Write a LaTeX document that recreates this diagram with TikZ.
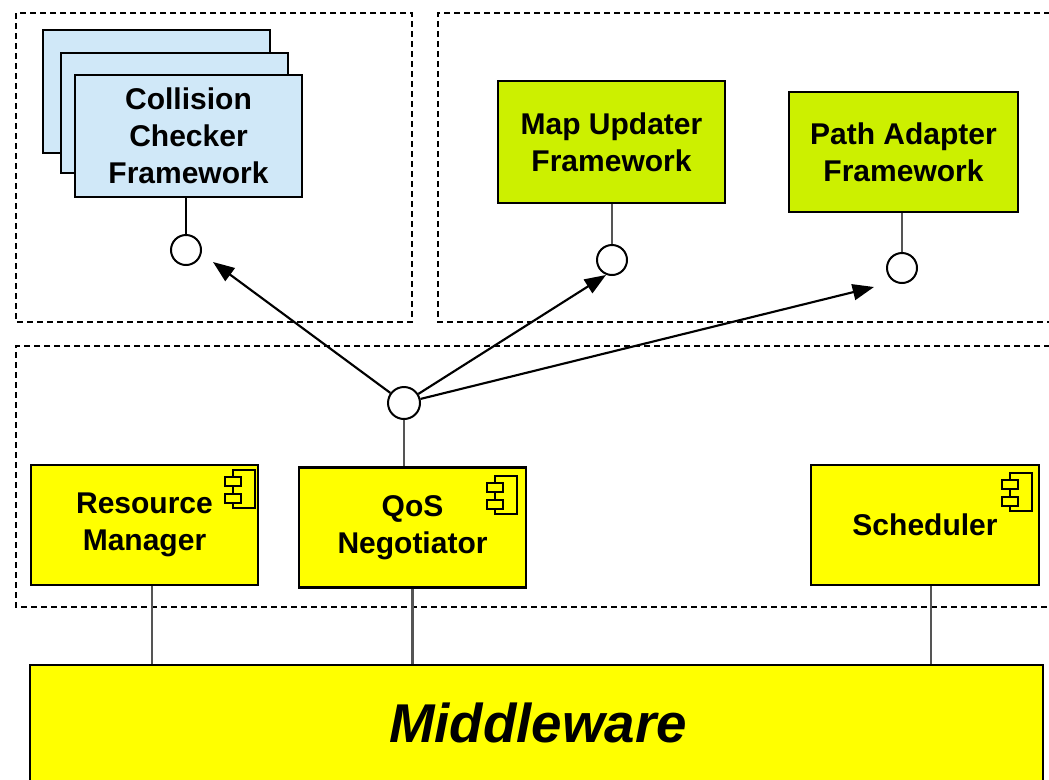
\documentclass[tikz,border=0pt]{standalone}
\usepackage{fontspec}
\setmainfont{Liberation Sans}
\usetikzlibrary{arrows.meta}
\definecolor{lblue}{HTML}{D0E8F8}
\definecolor{limeg}{HTML}{CCF000}
\definecolor{yel}{HTML}{FFFF00}
\definecolor{conn}{HTML}{555555}
\tikzset{
  compicon/.pic={
    \draw[line width=1.6pt, fill=yel] (-22,0) rectangle (0,38);
    \draw[line width=1.6pt, fill=yel] (-30,7) rectangle (-14,16);
    \draw[line width=1.6pt, fill=yel] (-30,24) rectangle (-14,33);
  }
}
\begin{document}
\begin{tikzpicture}[x=0.75pt,y=-0.75pt,
  box/.style={draw=black, line width=2.1pt, inner sep=0pt, align=center,
    font=\fontsize{22.5}{27.75}\selectfont\bfseries},
  fwbox/.style={box, fill=lblue, minimum width=170.25pt, minimum height=91.5pt},
  shadowbox/.style={draw=black, line width=2.1pt, fill=lblue, inner sep=0pt},
  greenbox/.style={box, fill=limeg, minimum width=170.25pt, minimum height=91.5pt},
  compbox/.style={box, fill=yel, minimum width=170.25pt, minimum height=90pt},
  iface/.style={circle, draw=black, line width=1.5pt, fill=white, minimum size=22.5pt, inner sep=0pt},
  group/.style={draw=black, line width=1.3pt, dash pattern=on 4.5pt off 3pt},
  link/.style={draw=conn, line width=1.9pt},
  stem/.style={draw=black, line width=1.8pt},
  use/.style={draw=black, line width=1.6pt, -{Triangle[length=16pt, width=12pt]}},
  mwbox/.style={draw=black, line width=2.2pt, fill=yel, inner sep=0pt,
    minimum width=759.75pt, minimum height=88.5pt},
  mwtext/.style={font=\fontsize{41}{48}\selectfont\bfseries\itshape, inner sep=0pt}
]
\useasboundingbox (0,0) rectangle (1049,779);
\clip (0,0) rectangle (1049,779);
\fill[white] (0,0) rectangle (1049,779);

% dashed groups
\draw[group] (16,13) rectangle (412,322);
\draw[group] (1060,13) -- (438,13) -- (438,322) -- (1060,322);
\draw[group] (1060,346) -- (16,346) -- (16,607) -- (1060,607);

% collision checker stack
\node[shadowbox, minimum width=170.25pt, minimum height=92.25pt] (cc3) at (156.5,91.5) {};
\node[shadowbox, minimum width=170.25pt, minimum height=90pt] (cc2) at (174.5,113) {};
\node[fwbox] (cc) at (188.5,136) {Collision\\Checker\\Framework};

\node[greenbox] (map) at (611.5,142) {Map Updater\\Framework};
\node[greenbox, minimum width=171.75pt, minimum height=90pt] (path) at (903.5,152) {Path Adapter\\Framework};

% interfaces
\node[iface] (ccI) at (186,250) {};
\node[iface] (mapI) at (612,260) {};
\node[iface] (pathI) at (902,268) {};
\node[iface, minimum size=24pt] (qosI) at (404,403) {};

\draw[stem] (ccI |- cc.south) -- (ccI);
\draw[stem, draw=conn] (mapI |- map.south) -- (mapI);
\draw[stem, draw=conn] (pathI |- path.south) -- (pathI);

% components
\node[compbox] (res) at (144.5,525) {Resource\\Manager};
\node[compbox] (qos) at (412.5,527.5) {QoS\\Negotiator};
\node[compbox, minimum width=171pt] (sch) at (925,525) {Scheduler};
\pic at (255,470) {compicon};
\pic at (517,476) {compicon};
\pic at (1032,473) {compicon};

\draw[link] (qosI) -- (qosI |- qos.north);

% middleware
\node[mwbox] (mw) at (536.5,724) {};
\node[mwtext] (mwt) at (538,723) {Middleware};

\draw[link] ([xshift=5.6pt]res.south) -- ([xshift=5.6pt]res.south |- mw.north);
\draw[link] (qos.south) -- (qos.south |- mw.north);
\draw[link] ([xshift=4.5pt]sch.south) -- ([xshift=4.5pt]sch.south |- mw.north);

% usage arrows
\coordinate (tCC) at (213,262);
\coordinate (tMap) at (606,275);
\coordinate (tPath) at (874,287);
\draw[use] (qosI) -- (tCC);
\draw[use] (qosI) -- (tMap);
\draw[use] (qosI) -- (tPath);
\end{tikzpicture}
\end{document}
